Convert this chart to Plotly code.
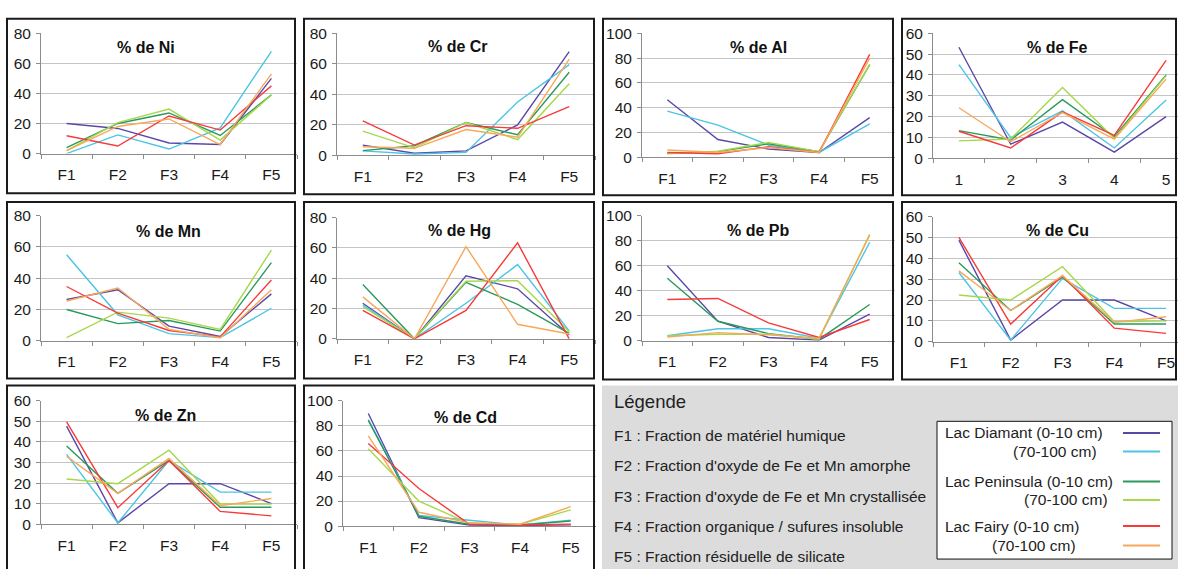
import plotly.graph_objects as go

W, H = 1178, 569
FONT = "Liberation Sans, Arial, sans-serif"

# ---------------- data ----------------
FRACTIONS = ["F1", "F2", "F3", "F4", "F5"]
FE_CATS = ["1", "2", "3", "4", "5"]
SERIES = ["Lac Diamant (0-10 cm)", "Lac Diamant (70-100 cm)",
          "Lac Peninsula (0-10 cm)", "Lac Peninsula (70-100 cm)",
          "Lac Fairy (0-10 cm)", "Lac Fairy (70-100 cm)"]
COLORS = ["#5a48a8", "#4cc4e4", "#2a9a5c", "#a6d84c", "#f83a3a", "#f8a85a"]

# each row: one series (order of SERIES), values for F1..F5 (%)
NI = [[20, 16.7, 7, 6, 50],
      [0, 12.4, 3, 17, 68],
      [4, 20, 27, 12, 39],
      [2, 20.6, 29.6, 9, 39],
      [11.8, 5, 25, 15.6, 45],
      [2, 18, 23, 6, 53]]
CR = [[6.8, 1.5, 3, 20, 68],
      [3, 1, 2, 35, 59.5],
      [3.2, 6.4, 21.6, 13.6, 54.5],
      [16, 5, 21.6, 10.4, 47],
      [22.7, 6.8, 19.5, 17.8, 32],
      [5.7, 4.7, 17, 12, 63]]
AL = [[46.5, 14.4, 6.8, 4, 32],
      [37.3, 26, 10, 4, 27],
      [3.4, 4.7, 11, 4.7, 74.7],
      [3, 5, 12, 4.7, 75],
      [4, 3, 8.6, 4, 83],
      [6, 4, 8, 4, 80]]
FE = [[53.3, 6.8, 17.4, 3, 20],
      [45, 10, 22.8, 5, 28],
      [13.3, 8.8, 28.2, 10.4, 40],
      [8.4, 9.3, 34, 9.6, 39.7],
      [13, 5, 22.3, 11, 47],
      [24.3, 8, 22, 9.3, 38]]
MN = [[26.4, 32.6, 9.4, 2.7, 30],
      [55, 16.6, 4.6, 2, 20.8],
      [20, 11, 13, 6.2, 50],
      [2, 18.3, 14.5, 7.3, 58],
      [34.7, 17.7, 6.6, 2.5, 38.9],
      [25.4, 33.7, 7.3, 2, 32.6]]
HG = [[23.5, 0, 41.6, 33, 2.5],
      [22.4, 0, 23.5, 49, 5.3],
      [35.8, 0, 37.3, 22.8, 3.6],
      [21.3, 0, 38, 38.4, 4.7],
      [18.8, 0, 18.8, 63.3, 0],
      [27.7, 0, 60.8, 9.6, 3.2]]
PB = [[60, 15.6, 2.6, 0.5, 21.3],
      [4, 9.6, 9.6, 2, 78.7],
      [50, 15.6, 5.7, 1.3, 29],
      [4, 5.2, 5.2, 1.3, 85],
      [33, 33.8, 14.3, 2.6, 17],
      [3, 6.5, 4.7, 2, 84.4]]
CU = [[48.7, 0.8, 20, 20, 10],
      [33.2, 0.8, 30.4, 16, 16],
      [37.9, 15, 31, 8.5, 8.5],
      [22.4, 20, 36, 9.6, 10],
      [50, 8.5, 31.7, 6.5, 4],
      [34, 15, 31.7, 9.3, 12]]
ZN = [[47.7, 0.6, 19.7, 19.7, 10],
      [34, 0.6, 31, 15.6, 15.6],
      [38, 15, 31, 8.2, 8.2],
      [22, 19.7, 36, 9.8, 9.8],
      [49.8, 8, 31, 6.2, 4],
      [33, 15, 32, 9, 12.5]]
CD = [[90, 6.7, 0.8, 0.5, 1],
      [85, 8.5, 4.7, 0.8, 4.7],
      [84.5, 7.8, 1.5, 0.8, 4.1],
      [61.7, 20, 2, 1.5, 13],
      [66, 30, 1.5, 0.8, 1.5],
      [72, 11, 2.6, 1.5, 15.5]]

LEGEND_TITLE = "Légende"
FRACTION_TEXT = ["F1 : Fraction de matériel humique",
                 "F2 : Fraction d'oxyde de Fe et Mn amorphe",
                 "F3 : Fraction d'oxyde de Fe et Mn crystallisée",
                 "F4 : Fraction organique / sufures insoluble",
                 "F5 : Fraction résiduelle de silicate"]

# ---------------- layout (pixel geometry) ----------------
# title, data, cats, ymax, dtick, axis x px (left,right), axis y px (top,zero), box px, title pos px
PANELS = [
    ("% de Ni", NI, FRACTIONS, 80, 20, (41, 297), (25, 149), (7, 10, 295, 190), (146, 40)),
    ("% de Cr", CR, FRACTIONS, 80, 20, (337, 595), (25, 151), (304, 10, 594, 191), (458, 39)),
    ("% de Al", AL, FRACTIONS, 100, 20, (642, 895), (25, 153), (603, 10, 893, 192), (758, 40)),
    ("% de Fe", FE, FE_CATS, 60, 10, (933, 1192), (25, 154), (902, 10, 1176, 192), (1057, 40)),
    ("% de Mn", MN, FRACTIONS, 80, 20, (41, 297), (213, 342), (7, 199, 295, 381), (168, 229)),
    ("% de Hg", HG, FRACTIONS, 80, 20, (337, 595), (215, 340), (304, 199, 594, 381), (459, 228)),
    ("% de Pb", PB, FRACTIONS, 100, 20, (642, 895), (213, 342), (603, 199, 893, 382), (758, 228)),
    ("% de Cu", CU, FRACTIONS, 60, 10, (933, 1192), (214, 343), (902, 199, 1176, 382), (1057, 228)),
    ("% de Zn", ZN, FRACTIONS, 60, 10, (41, 297), (404, 531), (7, 388, 295, 590), (165, 419)),
    ("% de Cd", CD, FRACTIONS, 100, 20, (343, 596), (404, 533), (304, 388, 594, 590), (465, 421)),
]


def px(x):
    return x / W


def py(y):
    return 1 - y / H


fig = go.Figure()
shapes = []
annotations = []
layout = {}

for i, (title, data, cats, ymax, dtick, (ax0, ax1), (ytop, yzero), box, tpos) in enumerate(PANELS):
    n = i + 1
    sfx = "" if n == 1 else str(n)
    band = (ax1 - ax0) / 5
    right = min(ax1, W)
    xhi = 4.5 - (ax1 - right) / band
    layout["xaxis" + sfx] = dict(
        domain=[px(ax0), px(right)], anchor="y" + sfx, type="category",
        categoryorder="array", categoryarray=cats, range=[-0.5, xhi],
        showgrid=False, showline=True, linecolor="#8c8c8c", linewidth=1,
        ticks="outside", tickson="boundaries", ticklen=4, tickcolor="#8c8c8c",
        tickfont=dict(family=FONT, size=15.5, color="#1a1a1a"),
        ticklabelstandoff=7, fixedrange=True, zeroline=False)
    layout["yaxis" + sfx] = dict(
        domain=[py(yzero), py(ytop)], anchor="x" + sfx, range=[0, ymax],
        dtick=dtick, tick0=0, showgrid=True, gridcolor="#c4c4c4", gridwidth=1,
        showline=True, linecolor="#8c8c8c", linewidth=1, ticks="outside",
        ticklen=4, tickcolor="#8c8c8c", zeroline=False,
        tickfont=dict(family=FONT, size=15.5, color="#1a1a1a"),
        ticklabelstandoff=2, fixedrange=True)
    for s, (vals, col) in enumerate(zip(data, COLORS)):
        fig.add_trace(go.Scatter(x=cats, y=vals, mode="lines", name=SERIES[s],
                                 line=dict(color=col, width=1.4),
                                 xaxis="x" + sfx, yaxis="y" + sfx,
                                 showlegend=False, hoverinfo="skip"))
    bl, bt, br, bb = box
    shapes.append(dict(type="rect", xref="paper", yref="paper",
                       x0=px(bl), x1=px(br), y0=py(bb), y1=py(bt),
                       line=dict(color="#1a1a1a", width=2), fillcolor="rgba(0,0,0,0)"))
    annotations.append(dict(text="<b>" + title + "</b>", xref="paper", yref="paper",
                            x=px(tpos[0]), y=py(tpos[1]),
                            xanchor="center", yanchor="middle", showarrow=False,
                            font=dict(family=FONT, size=16, color="#111")))

# legend panel
shapes.append(dict(type="rect", xref="paper", yref="paper", x0=px(602), x1=px(1185),
                   y0=py(580), y1=py(388), line=dict(width=0), fillcolor="#dcdcdc", layer="below"))
shapes.append(dict(type="rect", xref="paper", yref="paper", x0=px(937), x1=px(1172),
                   y0=py(567), y1=py(425), line=dict(color="#111", width=1), fillcolor="white",
                   layer="below"))
annotations.append(dict(text=LEGEND_TITLE, xref="paper", yref="paper", x=px(612), y=py(405),
                        xanchor="left", yanchor="middle", showarrow=False,
                        font=dict(family=FONT, size=18.5, color="#222")))
for k, (txt, yy) in enumerate(zip(FRACTION_TEXT, [440, 471, 502, 533, 564])):
    annotations.append(dict(text=txt, xref="paper", yref="paper", x=px(612), y=py(yy),
                            xanchor="left", yanchor="middle", showarrow=False,
                            font=dict(family=FONT, size=15.5, color="#222")))

LEG_ROWS = [(SERIES[0], "left", 943, 437),
            ("(70-100 cm)", "right", 1099, 456),
            (SERIES[2], "left", 943, 487),
            ("(70-100 cm)", "right", 1110, 506),
            (SERIES[4], "left", 943, 533),
            ("(70-100 cm)", "right", 1078, 553)]
for (txt, anc, xx, yy), col in zip(LEG_ROWS, COLORS):
    annotations.append(dict(text=txt, xref="paper", yref="paper", x=px(xx), y=py(yy),
                            xanchor=anc, yanchor="middle", showarrow=False,
                            font=dict(family=FONT, size=15.5, color="#222")))
    shapes.append(dict(type="line", xref="paper", yref="paper", x0=px(1123), x1=px(1160),
                       y0=py(yy), y1=py(yy), line=dict(color=col, width=2)))

fig.update_layout(width=W, height=H, autosize=False,
                  margin=dict(l=0, r=0, t=0, b=0, pad=0),
                  paper_bgcolor="white", plot_bgcolor="rgba(0,0,0,0)",
                  shapes=shapes, annotations=annotations, showlegend=False,
                  font=dict(family=FONT), **layout)

fig.write_html("out.html", config={"displayModeBar": False})
